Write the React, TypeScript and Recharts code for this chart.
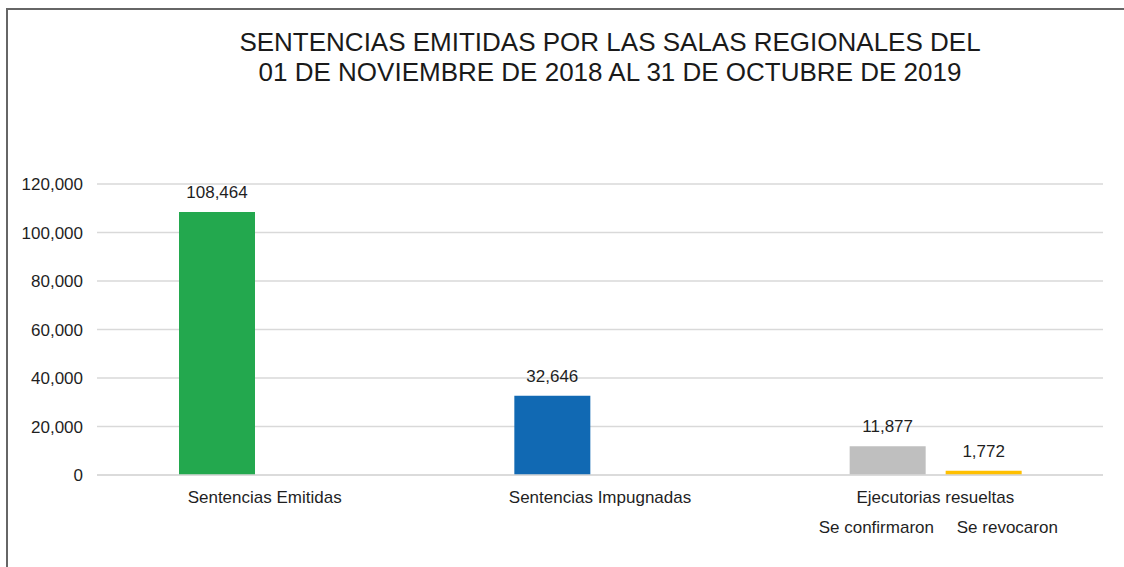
import { BarChart, Bar, XAxis, YAxis, CartesianGrid, LabelList, Cell } from "recharts";

const categories = ["Sentencias Emitidas", "Sentencias Impugnadas", "Ejecutorias resueltas"];
const primaryValues = [108464, 32646, 11877];
const secondaryValues = [null, null, 1772];
const primaryColors = ["#23A84E", "#1169B3", "#BFBFBF"];
const secondaryColor = "#FFC000";
const subLabels = ["Se confirmaron", "Se revocaron"];
const yTicks = [0, 20000, 40000, 60000, 80000, 100000, 120000];
const titleLines = [
  "SENTENCIAS EMITIDAS POR LAS SALAS REGIONALES DEL",
  "01 DE NOVIEMBRE DE 2018 AL 31 DE OCTUBRE DE 2019",
];

const data = categories.map((name, i) => ({
  name,
  primary: primaryValues[i],
  secondary: secondaryValues[i],
}));

const font = "'Liberation Sans', Arial, sans-serif";
const textColor = "#1f1f1f";
const fmt = (v: any) => (v == null ? "" : Number(v).toLocaleString("en-US"));

function CategoryTick(props: any) {
  const { x, y, payload, index } = props;
  return (
    <g>
      <text x={x} y={y + 20} textAnchor="middle" fontSize={17} fill={textColor} fontFamily={font}>
        {payload.value}
      </text>
      {index === 2 && (
        <>
          <text x={x - 59} y={y + 50} textAnchor="middle" fontSize={17} fill={textColor} fontFamily={font}>
            {subLabels[0]}
          </text>
          <text x={x + 72} y={y + 50} textAnchor="middle" fontSize={17} fill={textColor} fontFamily={font}>
            {subLabels[1]}
          </text>
        </>
      )}
    </g>
  );
}

export default function App() {
  return (
    <div style={{ position: "absolute", left: 0, top: 0, width: 1124, height: 567, background: "#fff" }}>
      <div
        style={{
          position: "absolute",
          left: 6,
          top: 8,
          width: 1118,
          height: 559,
          borderTop: "2px solid #666",
          borderLeft: "2px solid #666",
          boxSizing: "border-box",
        }}
      />
      <div
        style={{
          position: "absolute",
          left: 110,
          width: 1000,
          top: 27,
          textAlign: "center",
          fontFamily: font,
          fontSize: 26,
          lineHeight: "30px",
          color: "#1a1a1a",
        }}
      >
        {titleLines.map((t) => (
          <div key={t}>{t}</div>
        ))}
      </div>
      <div style={{ position: "absolute", left: 0, top: 0 }}>
        <BarChart
          width={1124}
          height={567}
          data={data}
          margin={{ top: 184, right: 21, bottom: 62, left: 0 }}
          barSize={76}
          barGap={20}
        >
          <CartesianGrid vertical={false} stroke="#d9d9d9" strokeWidth={1.5} />
          <XAxis
            dataKey="name"
            axisLine={{ stroke: "#d9d9d9", strokeWidth: 1.5 }}
            tickLine={false}
            tick={<CategoryTick />}
            interval={0}
          />
          <YAxis
            width={97}
            domain={[0, 120000]}
            ticks={yTicks}
            axisLine={false}
            tickLine={false}
            tickMargin={8}
            tickFormatter={fmt}
            tick={{ fontSize: 17, fill: textColor, fontFamily: font }}
          />
          <Bar dataKey="primary" isAnimationActive={false}>
            {data.map((d, i) => (
              <Cell key={d.name} fill={primaryColors[i]} />
            ))}
            <LabelList dataKey="primary" position="top" offset={14} formatter={fmt} fontSize={17} fill={textColor} fontFamily={font} />
          </Bar>
          <Bar dataKey="secondary" fill={secondaryColor} isAnimationActive={false}>
            <LabelList dataKey="secondary" position="top" offset={14} formatter={fmt} fontSize={17} fill={textColor} fontFamily={font} />
          </Bar>
        </BarChart>
      </div>
    </div>
  );
}
